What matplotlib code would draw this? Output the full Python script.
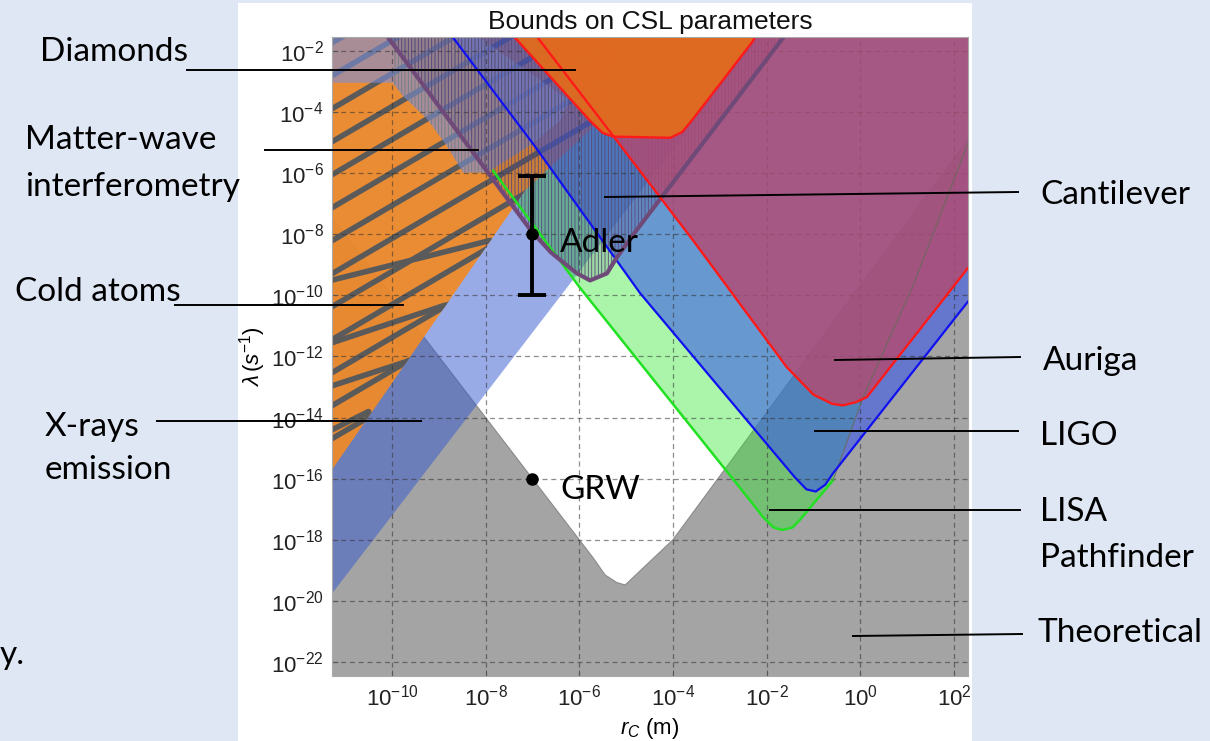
import numpy as np
import matplotlib.pyplot as plt
from matplotlib.patches import Polygon, Rectangle
from matplotlib.lines import Line2D

plt.rcParams['mathtext.fontset'] = 'custom'
plt.rcParams['mathtext.rm'] = 'Liberation Sans'
plt.rcParams['mathtext.it'] = 'Liberation Sans:italic'
plt.rcParams['mathtext.bf'] = 'Liberation Sans:bold'
plt.rcParams['font.family'] = ['Liberation Sans', 'DejaVu Sans']
plt.rcParams['hatch.linewidth'] = 0.6

# boundaries, as log10(r_C / m) and log10(lambda / s^-1)
theo_logr = [-12.0, -6.0, -5.7, -5.45, -5.2, -5.02, -4.0, 0.0, 2.3, 3.0]
theo_loglam = [-6.0, -18.0, -18.6, -19.15, -19.4, -19.48, -18.0, -9.67, -4.9, -3.5]

xray_logr = [-12.0, -6.09, -1.4]
xray_loglam = [-21.2, -9.4, 0.0]

lisa_logr = [-10.71, -7.84, -5.99, -2.36, -2.08, -1.85, -1.67, -1.45, -1.29, -0.58, 0.06, 1.13, 2.28, 2.6]
lisa_loglam = [0.0, -5.92, -9.74, -16.7, -17.25, -17.6, -17.68, -17.6, -17.35, -16.05, -13.33, -9.67, -5.1, -3.9]

ligo_logr = [-9.44, -8.7, -6.99, -4.7, -1.4, -1.15, -0.95, -0.75, -0.58, 2.3, 3.0]
ligo_loglam = [0.0, -1.55, -5.03, -9.93, -15.95, -16.35, -16.42, -16.2, -15.82, -10.2, -8.83]

auriga_logr = [-7.67, -5.2, -3.57, -1.57, -1.0, -0.6, -0.37, -0.1, 0.14, 2.3, 3.0]
auriga_loglam = [0.0, -4.93, -8.2, -12.35, -13.25, -13.55, -13.6, -13.5, -13.33, -9.1, -7.7]

cant_logr = [-10.86, -10.09, -7.95, -7.03, -6.6, -6.05, -5.77, -5.41, -5.2, -4.77, -1.65, -0.87]
cant_loglam = [0.0, -1.54, -5.98, -7.88, -8.6, -9.28, -9.51, -9.28, -8.76, -7.85, -1.57, 0.0]

diam_logr = [-7.6, -7.37, -5.76, -5.5, -5.28, -4.06, -3.8, -3.57, -2.29, -2.1]
diam_loglam = [-1.0, -1.57, -4.3, -4.68, -4.8, -4.84, -4.65, -4.22, -1.67, -1.0]

cold_logr = [-12.0, -7.89, -7.16, -5.56, -5.13, -12.0]
cold_loglam = [-17.3, -8.2, -6.57, -4.28, -1.0, -1.0]
# gray stripes across the cold-atoms region (height at the left edge, slope)
stripe_a_loglam0 = [-1.73, -2.81, -3.89, -4.97, -6.05, -7.13, -8.21, -9.29, -10.37, -11.45, -12.53, -13.61, -14.69]
stripe_a_slope = 0.9
# shallower stripes that meet a steep one on the right edge of the region: (left-edge height, tip)
stripe_b_loglam0 = [-9.5, -11.55, -12.96, -14.4]
stripe_b_tip_logr = [-7.9, -8.87, -9.66, -10.5]
stripe_b_tip_loglam = [-8.2, -10.32, -12.15, -13.8]

mw_logr = [-12.0, -8.65, -6.2, -6.41, -6.99, -7.97, -8.48, -8.83, -9.25, -9.77, -9.98, -12.0]
mw_loglam = [-1.0, -1.0, -3.63, -4.28, -5.03, -5.98, -5.98, -5.1, -4.22, -3.46, -3.04, -3.04]

adler_logr, adler_loglam, adler_lo, adler_hi = -7.0, -8.0, -10.0, -6.08
grw_logr, grw_loglam = -7.0, -16.0

W, H = 1210, 741
fig = plt.figure(figsize=(W / 100, H / 100), dpi=100, facecolor='#dfe7f4')
fig.patches.append(Rectangle((238 / W, 0), (972 - 238) / W, (H - 3) / H, transform=fig.transFigure,
                             facecolor='white', edgecolor='none', zorder=-1))
ax = fig.add_axes([332 / W, 1 - 676 / H, 636 / W, 639 / H])
ax.set_xscale('log')
ax.set_yscale('log')
ax.set_xlim(10 ** -11.28, 10 ** 2.3)
ax.set_ylim(10 ** -22.46, 10 ** -1.54)


def pts(lr, ll):
    return np.column_stack([10.0 ** np.array(lr), 10.0 ** np.array(ll)])


def above(lr, ll):
    # region above a bound curve, closed along the top
    return pts(lr + [lr[-1], lr[0]], ll + [1.0, 1.0])


def add(xy, z, **kw):
    p = Polygon(xy, closed=True, zorder=z, **kw)
    ax.add_patch(p)
    return p


def curve(lr, ll, **kw):
    return ax.plot(10.0 ** np.array(lr), 10.0 ** np.array(ll), **kw)[0]


# theoretical (below the curve)
add(pts(theo_logr + [3.0, -12.0], theo_loglam + [-25.0, -25.0]), 1.0,
    facecolor='#a4a4a4', edgecolor='#8a8a8a', lw=0.8)
# x-rays (left of the line)
add(pts(xray_logr + [-12.0], xray_loglam + [1.0]), 1.05, facecolor='#3559d0', alpha=0.5, lw=0)
# LISA Pathfinder
add(above(lisa_logr, lisa_loglam), 1.1, facecolor='#2ee82e', alpha=0.4, lw=0)
# cold atoms
cold = add(pts(cold_logr, cold_loglam), 1.15, facecolor='#f28a25', alpha=0.92, lw=0)
stripe_kw = dict(color='#5a5a5a', lw=4.0, zorder=1.16, solid_capstyle='round')
for c0 in stripe_a_loglam0:
    lr = np.array([-12.0, -4.0])
    st, = ax.plot(10.0 ** lr, 10.0 ** (c0 + stripe_a_slope * (lr + 11.28)), **stripe_kw)
    st.set_clip_path(cold)
for c0, tr, tl in zip(stripe_b_loglam0, stripe_b_tip_logr, stripe_b_tip_loglam):
    st = curve([-11.28, tr], [c0, tl], **stripe_kw)
    st.set_clip_path(cold)
# LIGO
add(above(ligo_logr, ligo_loglam), 1.2, facecolor='#3a5ae8', alpha=0.6, lw=0)
# matter-wave interferometry
add(pts(mw_logr, mw_loglam), 1.25, facecolor='#7d8fd8', alpha=0.6, lw=0)
add(pts([-9.98] + mw_logr[1:-1] + [-9.98], [-1.0] + mw_loglam[1:]), 1.26,
    facecolor='none', edgecolor='#6c7c8c', hatch='|||||', lw=0)
# cantilever
add(above(cant_logr, cant_loglam), 1.3, facecolor='#3a2a6a', alpha=0.15, lw=0)
add(above(cant_logr, cant_loglam), 1.31, facecolor='none', edgecolor='#5a4a7a', hatch='|||||', lw=0)
# Auriga
add(above(auriga_logr, auriga_loglam), 1.6, facecolor='#b24a72', alpha=0.82, lw=0)
# diamonds
add(above(diam_logr, diam_loglam), 1.7, facecolor='#e46c1a', alpha=0.93, lw=0)

# bound lines
curve(lisa_logr[1:10], lisa_loglam[1:10], color='#22e022', lw=1.8, zorder=2.1)
curve(lisa_logr[9:], lisa_loglam[9:], color='#6a6a5a', lw=1.0, alpha=0.7, zorder=2.1)
curve(ligo_logr, ligo_loglam, color='#1010f0', lw=1.6, zorder=2.2)
curve(cant_logr, cant_loglam, color='#6f4a78', lw=3.0, zorder=2.3)
curve(auriga_logr, auriga_loglam, color='#ff1a1a', lw=1.7, zorder=2.4)
curve(diam_logr, diam_loglam, color='#ff1a1a', lw=1.7, zorder=2.5)

# Adler and GRW values
ax.errorbar([10.0 ** adler_logr], [10.0 ** adler_loglam],
            yerr=[[10.0 ** adler_loglam - 10.0 ** adler_lo], [10.0 ** adler_hi - 10.0 ** adler_loglam]],
            fmt='o', color='black', ms=8, elinewidth=2.8, capsize=10, capthick=2.8, zorder=4)
ax.plot([10.0 ** grw_logr], [10.0 ** grw_loglam], 'o', color='black', ms=8, zorder=4)

ax.set_axisbelow('line')
ax.grid(True, which='major', color='#303030', alpha=0.55, lw=0.9, ls=(0, (4, 3)))
ax.set_xticks([10.0 ** k for k in range(-10, 3, 2)])
ax.set_yticks([10.0 ** k for k in range(-22, -1, 2)])
ax.minorticks_off()
ax.tick_params(direction='in', length=4, width=0.6, color='#555555', labelsize=16,
               labelcolor='#222222', pad=6)
for s in ax.spines.values():
    s.set_color('#aaaaaa')
    s.set_linewidth(0.8)
ax.set_title('Bounds on CSL parameters', fontsize=19, pad=6, color='#111111')
ax.set_xlabel(r'$r_C$ (m)', fontsize=16, labelpad=4)
ax.set_ylabel(r'$\lambda\,(s^{-1})$', fontsize=16, labelpad=2)

# slide annotations
tf = dict(family=['Lato', 'DejaVu Sans'], fontsize=24, color='black', va='center')


def ftext(x, y, s, **kw):
    fig.text(x / W, 1 - y / H, s, **tf, **kw)


def fline(x0, y0, x1, y1):
    fig.add_artist(Line2D([x0 / W, x1 / W], [1 - y0 / H, 1 - y1 / H], color='black', lw=1.4, zorder=10))


ftext(40, 52, 'Diamonds')
fline(187, 70, 575, 70)
ftext(25, 140, 'Matter-wave')
ftext(25, 187, 'interferometry')
fline(265, 150, 478, 150)
ftext(15, 292, 'Cold atoms')
fline(175, 305, 403, 305)
ftext(45, 427, 'X-rays')
ftext(45, 470, 'emission')
fline(157, 421, 421, 421)
ftext(1040, 195, 'Cantilever')
fline(605, 197, 1018, 192)
ftext(1043, 361, 'Auriga')
fline(835, 360, 1020, 357)
ftext(1040, 436, 'LIGO')
fline(815, 431, 1018, 431)
ftext(1040, 512, 'LISA')
ftext(1040, 558, 'Pathfinder')
fline(770, 510, 1020, 510)
ftext(1037, 633, 'Theoretical')
fline(853, 636, 1022, 634)
ftext(560, 243, 'Adler')
ftext(560, 490, 'GRW')
ftext(0, 655, 'y.')

fig.savefig('out.png', dpi=100, facecolor=fig.get_facecolor())
